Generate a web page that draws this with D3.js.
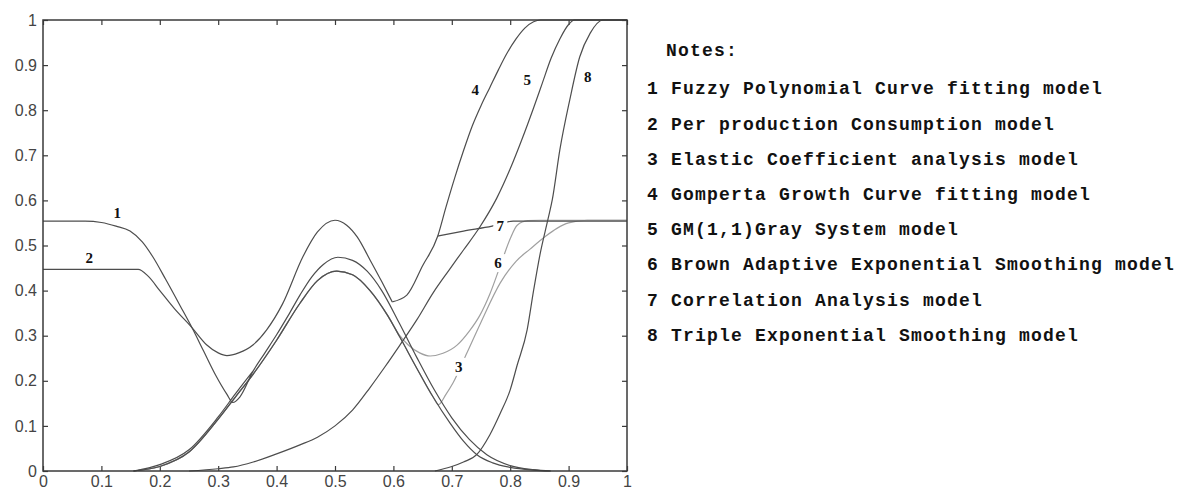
<!DOCTYPE html>
<html>
<head>
<meta charset="utf-8">
<script src="https://cdn.jsdelivr.net/npm/d3@7"></script>
<style>
  body { margin: 0; background: #fff; }
  svg { display: block; }
</style>
</head>
<body>
<div id="chart"></div>
<script>
// tick labels
const xTickValues = [0, 0.1, 0.2, 0.3, 0.4, 0.5, 0.6, 0.7, 0.8, 0.9, 1];
const xTickLabels = ['0', '0.1', '0.2', '0.3', '0.4', '0.5', '0.6', '0.7', '0.8', '0.9', '1'];
const yTickValues = [0, 0.1, 0.2, 0.3, 0.4, 0.5, 0.6, 0.7, 0.8, 0.9, 1];
const yTickLabels = ['0', '0.1', '0.2', '0.3', '0.4', '0.5', '0.6', '0.7', '0.8', '0.9', '1'];

// curves, [x, y]; null breaks a line
const curve1 = [
  [0.155, 0], [0.2, 0.014], [0.25, 0.047], [0.3, 0.12], [0.33, 0.172], [0.36, 0.222], null,
  [0, 0.554], [0.072, 0.554], [0.1, 0.551], [0.125, 0.543], [0.149, 0.532], [0.17, 0.508],
  [0.188, 0.475], [0.21, 0.425], [0.235, 0.366], [0.255, 0.318], [0.275, 0.266], [0.295, 0.214],
  [0.315, 0.17], [0.325, 0.152], [0.337, 0.164], [0.36, 0.222], [0.38, 0.262], [0.4, 0.302],
  [0.42, 0.345], [0.44, 0.39], [0.46, 0.43], [0.48, 0.458], [0.505, 0.474], [0.53, 0.467],
  [0.555, 0.443], [0.58, 0.4], [0.61, 0.328], [0.64, 0.252], [0.67, 0.18], [0.7, 0.118],
  [0.73, 0.07], [0.76, 0.036], [0.8, 0.012], [0.84, 0.003], [0.87, 0]
];
const curve2 = [
  [0, 0.447], [0.163, 0.447], [0.18, 0.432], [0.2, 0.4], [0.225, 0.36], [0.255, 0.318],
  [0.28, 0.28], [0.3, 0.262], [0.315, 0.256], [0.335, 0.262], [0.36, 0.28], [0.383, 0.313],
  [0.41, 0.37], [0.445, 0.475], [0.47, 0.53], [0.5, 0.556], [0.52, 0.545], [0.538, 0.519],
  [0.56, 0.468], [0.58, 0.42], [0.598, 0.375]
];
const curve3 = [
  [0.155, 0], [0.2, 0.01], [0.25, 0.042], [0.3, 0.115], [0.33, 0.165], [0.36, 0.215],
  [0.4, 0.29], [0.44, 0.372], [0.47, 0.422], [0.503, 0.443], [0.53, 0.435], [0.56, 0.4],
  [0.59, 0.345], [0.611, 0.297], [0.64, 0.228], [0.668, 0.164], [0.677, 0.147], [0.69, 0.17],
  [0.702, 0.195], [0.726, 0.262], [0.75, 0.33], [0.783, 0.417], [0.81, 0.465], [0.834, 0.492],
  [0.86, 0.52], [0.88, 0.538], [0.9, 0.55], [0.932, 0.556], [1, 0.556]
];
const curve4 = [
  [0.598, 0.375], [0.623, 0.39], [0.65, 0.455], [0.676, 0.521], [0.69, 0.585], [0.705, 0.65],
  [0.72, 0.71], [0.735, 0.765], [0.75, 0.81], [0.765, 0.85], [0.78, 0.89], [0.794, 0.925],
  [0.81, 0.958], [0.825, 0.982], [0.84, 0.996], [0.852, 1], [1, 1]
];
const curve5 = [
  [0.25, 0], [0.3, 0.005], [0.326, 0.009], [0.36, 0.02], [0.4, 0.038], [0.44, 0.058],
  [0.47, 0.075], [0.5, 0.1], [0.53, 0.135], [0.56, 0.185], [0.585, 0.23], [0.61, 0.277],
  [0.64, 0.335], [0.668, 0.395], [0.695, 0.445], [0.72, 0.49], [0.748, 0.541], [0.777, 0.605],
  [0.8, 0.67], [0.82, 0.735], [0.84, 0.805], [0.855, 0.86], [0.87, 0.915], [0.885, 0.958],
  [0.9, 0.99], [0.91, 1], [1, 1]
];
const curve6 = [
  [0.155, 0], [0.2, 0.01], [0.25, 0.042], [0.3, 0.115], [0.33, 0.165], [0.36, 0.215],
  [0.4, 0.29], [0.44, 0.372], [0.47, 0.422], [0.503, 0.443], [0.53, 0.435], [0.56, 0.4],
  [0.59, 0.345], [0.611, 0.3], [0.625, 0.28], [0.645, 0.262], [0.663, 0.255], [0.685, 0.261],
  [0.709, 0.279], [0.73, 0.31], [0.748, 0.345], [0.765, 0.392], [0.783, 0.455], [0.8, 0.515],
  [0.812, 0.545], [0.83, 0.555], [0.85, 0.556], [1, 0.556]
];
const curve7 = [
  [0.155, 0], [0.2, 0.01], [0.25, 0.042], [0.3, 0.115], [0.33, 0.165], [0.36, 0.215],
  [0.4, 0.29], [0.44, 0.372], [0.47, 0.422], [0.503, 0.443], [0.53, 0.435], [0.56, 0.4],
  [0.59, 0.345], [0.611, 0.297], [0.64, 0.228], [0.668, 0.164], [0.697, 0.106], [0.72, 0.066],
  [0.743, 0.036], [0.77, 0.018], [0.8, 0.008], [0.84, 0.002], [0.868, 0], null,
  [0.676, 0.521], [0.72, 0.532], [0.769, 0.543], [0.805, 0.554], [1, 0.554]
];
const curve8 = [
  [0.671, 0], [0.7, 0.01], [0.72, 0.02], [0.743, 0.037], [0.765, 0.08], [0.783, 0.128],
  [0.8, 0.18], [0.812, 0.235], [0.829, 0.313], [0.84, 0.4], [0.851, 0.48], [0.865, 0.56],
  [0.872, 0.601], [0.885, 0.712], [0.902, 0.823], [0.919, 0.918], [0.937, 0.971], [0.959, 1], [1, 1]
];

const curveIds = ['1', '2', '3', '4', '5', '6', '7', '8'];
const curveData = [curve1, curve2, curve3, curve4, curve5, curve6, curve7, curve8];
const labelPos = [[0.127, 0.572], [0.079, 0.472], [0.712, 0.231], [0.74, 0.845],
                  [0.829, 0.867], [0.779, 0.461], [0.783, 0.543], [0.933, 0.874]];

const notesTitle = 'Notes:';
const notes = [
  '1 Fuzzy Polynomial Curve fitting model',
  '2 Per production Consumption model',
  '3 Elastic Coefficient analysis model',
  '4 Gomperta Growth Curve fitting model',
  '5 GM(1,1)Gray System model',
  '6 Brown Adaptive Exponential Smoothing model',
  '7 Correlation Analysis model',
  '8 Triple Exponential Smoothing model'
];

const W = 1183, H = 493;
const plot = { left: 43, right: 627, top: 20, bottom: 471 };

const svg = d3.select('#chart').append('svg')
  .attr('width', W)
  .attr('height', H);

const x = d3.scaleLinear().domain([0, 1]).range([plot.left, plot.right]);
const y = d3.scaleLinear().domain([0, 1]).range([plot.bottom, plot.top]);

const axisColor = '#3a3a3a';
const tickFont = '"Liberation Sans", Arial, sans-serif';

function styleAxis(g, showLabels) {
  g.select('.domain').remove();
  g.selectAll('.tick line').attr('stroke', axisColor).attr('stroke-width', 1.2);
  g.selectAll('.tick text')
    .attr('fill', '#444')
    .style('font-family', tickFont)
    .style('font-size', '16px');
  if (!showLabels) g.selectAll('.tick text').remove();
}

// bottom / left with labels, ticks pointing inward
svg.append('g')
  .attr('transform', `translate(0,${plot.bottom})`)
  .call(d3.axisBottom(x).tickValues(xTickValues).tickSize(-5).tickPadding(5)
    .tickFormat((d, i) => xTickLabels[i]))
  .call(g => styleAxis(g, true));

svg.append('g')
  .attr('transform', `translate(${plot.left},0)`)
  .call(d3.axisLeft(y).tickValues(yTickValues).tickSize(-5).tickPadding(6)
    .tickFormat((d, i) => yTickLabels[i]))
  .call(g => styleAxis(g, true));

// top / right: ticks only
svg.append('g')
  .attr('transform', `translate(0,${plot.top})`)
  .call(d3.axisTop(x).tickValues(xTickValues).tickSize(-5))
  .call(g => styleAxis(g, false));

svg.append('g')
  .attr('transform', `translate(${plot.right},0)`)
  .call(d3.axisRight(y).tickValues(yTickValues).tickSize(-5))
  .call(g => styleAxis(g, false));

const line = d3.line()
  .defined(d => d !== null)
  .x(d => x(d[0]))
  .y(d => y(d[1]))
  .curve(d3.curveMonotoneX);

// light curves first so the dark ones sit on top
const lightCurves = ['3', '6'];
const order = [2, 5, 0, 1, 3, 4, 6, 7];

svg.append('g')
  .selectAll('path')
  .data(order)
  .join('path')
  .attr('d', i => line(curveData[i]))
  .attr('fill', 'none')
  .attr('stroke', i => lightCurves.includes(curveIds[i]) ? '#a0a0a0' : '#4d4d4d')
  .attr('stroke-width', 1.2);

// frame
svg.append('rect')
  .attr('x', plot.left)
  .attr('y', plot.top)
  .attr('width', plot.right - plot.left)
  .attr('height', plot.bottom - plot.top)
  .attr('fill', 'none')
  .attr('stroke', axisColor)
  .attr('stroke-width', 1.5);

// curve numbers
const lbl = svg.append('g')
  .selectAll('g')
  .data(curveIds)
  .join('g')
  .attr('transform', (d, i) => `translate(${x(labelPos[i][0])},${y(labelPos[i][1])})`);

lbl.append('rect')
  .attr('x', -7).attr('y', -9).attr('width', 14).attr('height', 18)
  .attr('fill', '#fff');

lbl.append('text')
  .text(d => d)
  .attr('text-anchor', 'middle')
  .attr('dy', '0.35em')
  .attr('fill', '#111')
  .style('font-family', '"Liberation Serif", "Times New Roman", serif')
  .style('font-weight', 'bold')
  .style('font-size', '15px');

// notes
const notesFont = '"Liberation Mono", "DejaVu Sans Mono", monospace';
const notesG = svg.append('g');

notesG.append('text')
  .attr('x', 666)
  .attr('y', 50)
  .attr('dy', '0.35em')
  .text(notesTitle);

notesG.selectAll('text.note')
  .data(notes)
  .join('text')
  .attr('class', 'note')
  .attr('x', 647)
  .attr('y', (d, i) => 88 + i * 35.2)
  .attr('dy', '0.35em')
  .text(d => d);

notesG.selectAll('text')
  .attr('fill', '#111')
  .style('font-family', notesFont)
  .style('font-weight', 'bold')
  .style('font-size', '18px')
  .style('letter-spacing', '1.2px');
</script>
</body>
</html>
